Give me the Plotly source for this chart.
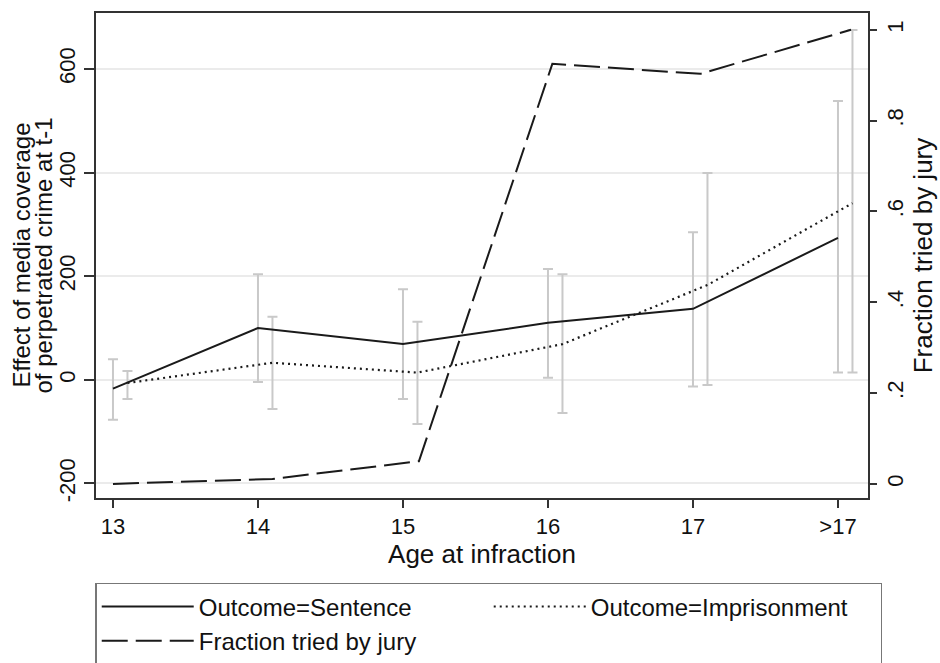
import plotly.graph_objects as go

# ---- data ----
age_labels = ["13", "14", "15", "16", "17", ">17"]

sentence = [-17, 100, 69, 110, 137, 274]
sentence_lo = [-77, -4, -37, 4, -13, 14]
sentence_hi = [40, 204, 175, 214, 285, 538]

imprison = [-6, 33, 14, 69, 183, 341]
imprison_lo = [-37, -56, -85, -64, -10, 14]
imprison_hi = [17, 122, 112, 204, 399, 675]

jury = [0.0, 0.011, 0.05, 0.925, 0.903, 1.0]

left_ticks = [-200, 0, 200, 400, 600]
left_ticktext = ["-200", "0", "200", "400", "600"]
right_ticks = [0, 0.2, 0.4, 0.6, 0.8, 1.0]
right_ticktext = ["0", ".2", ".4", ".6", ".8", "1"]

left_title_lines = ["Effect of media coverage", "of perpetrated crime at t-1"]

# horizontal offsets (in category units) used by the original figure
imp_offset = 0.1
jury_offset = [0.0, 0.1, 0.11, 0.03, 0.05, 0.09]

idx = list(range(len(age_labels)))
x_sent = idx
x_imp = [i + imp_offset for i in idx]
x_jury = [i + o for i, o in zip(idx, jury_offset)]

FONT = "Liberation Sans, Arial, Helvetica, sans-serif"
FS = 22
ERR_COL = "#c9c9c9"

L, R, T, B = 96, 72, 13, 165
W, H = 940, 663
PW = W - L - R

fig = go.Figure()

# error bars (drawn first, beneath lines)
fig.add_trace(go.Scatter(
    x=x_sent, y=sentence, mode="markers",
    marker=dict(size=1, color="rgba(0,0,0,0)"),
    error_y=dict(type="data", symmetric=False,
                 array=[h - v for h, v in zip(sentence_hi, sentence)],
                 arrayminus=[v - l for l, v in zip(sentence_lo, sentence)],
                 color=ERR_COL, thickness=2, width=5),
    showlegend=False, hoverinfo="skip"))
fig.add_trace(go.Scatter(
    x=x_imp, y=imprison, mode="markers",
    marker=dict(size=1, color="rgba(0,0,0,0)"),
    error_y=dict(type="data", symmetric=False,
                 array=[h - v for h, v in zip(imprison_hi, imprison)],
                 arrayminus=[v - l for l, v in zip(imprison_lo, imprison)],
                 color=ERR_COL, thickness=2, width=5),
    showlegend=False, hoverinfo="skip"))

fig.add_trace(go.Scatter(
    x=x_sent, y=sentence, mode="lines", name="Outcome=Sentence",
    line=dict(color="#1a1a1a", width=2)))
fig.add_trace(go.Scatter(
    x=x_imp, y=imprison, mode="lines", name="Outcome=Imprisonment",
    line=dict(color="#1a1a1a", width=2.2, dash="2px,4px")))
fig.add_trace(go.Scatter(
    x=x_jury, y=jury, mode="lines", name="Fraction tried by jury",
    yaxis="y2",
    line=dict(color="#1a1a1a", width=2, dash="26px,8px")))

# left axis title as two rotated lines (tighter line spacing than <br>)
for px, txt in zip([21, 43], left_title_lines):
    fig.add_annotation(
        text=txt, xref="paper", yref="paper",
        x=(px - L) / PW, y=0.5, xanchor="center", yanchor="middle",
        textangle=-90, showarrow=False, font=dict(size=24, family=FONT, color="#111"))

fig.update_layout(
    width=W, height=H,
    margin=dict(l=L, r=R, t=T, b=B, autoexpand=False),
    paper_bgcolor="white", plot_bgcolor="white",
    font=dict(family=FONT, size=FS, color="#111"),
    xaxis=dict(
        range=[-0.117, 5.207], tickmode="array", tickvals=idx, ticktext=age_labels,
        showgrid=False, zeroline=False,
        showline=True, mirror=True, linecolor="#333", linewidth=2,
        ticks="outside", ticklen=8, tickcolor="#333", tickwidth=1.5,
        title=dict(text="Age at infraction", standoff=6),
        tickfont=dict(size=FS),
    ),
    yaxis=dict(
        range=[-228, 708], tickmode="array", tickvals=left_ticks, ticktext=left_ticktext,
        tickangle=-90,
        showgrid=True, gridcolor="#ebebeb", gridwidth=2, zeroline=False,
        showline=True, mirror=True, linecolor="#333", linewidth=2,
        ticks="outside", ticklen=10, tickcolor="#333", tickwidth=1.5,
        tickfont=dict(size=FS),
    ),
    yaxis2=dict(
        range=[-0.031, 1.037], overlaying="y", side="right",
        tickmode="array", tickvals=right_ticks, ticktext=right_ticktext,
        tickangle=-90, showgrid=False, zeroline=False,
        ticks="outside", ticklen=8, tickcolor="#333", tickwidth=1.5,
        title=dict(text="Fraction tried by jury", standoff=6),
        tickfont=dict(size=FS),
    ),
    legend=dict(
        orientation="h", x=-0.001, xanchor="left", y=-0.175, yanchor="top",
        bordercolor="#777", borderwidth=1.5, bgcolor="white",
        entrywidth=285, itemwidth=92, traceorder="normal",
        font=dict(size=24),
    ),
    showlegend=True,
)

fig.write_html("out.html")
